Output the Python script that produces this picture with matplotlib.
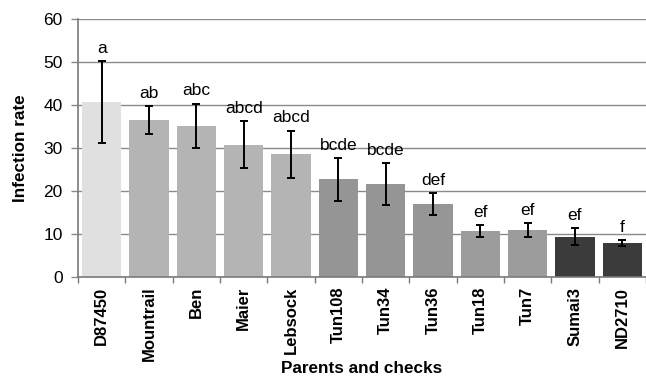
import numpy as np
import matplotlib
matplotlib.use("Agg")
import matplotlib.pyplot as plt

plt.rcParams['font.family'] = ['Liberation Sans', 'DejaVu Sans']

# genotypes, mean infection rate, error bar half-width, mean separation letters
lines = ['D87450', 'Mountrail', 'Ben', 'Maier', 'Lebsock', 'Tun108',
         'Tun34', 'Tun36', 'Tun18', 'Tun7', 'Sumai3', 'ND2710']
rates = [40.7, 36.5, 35.2, 30.8, 28.5, 22.7, 21.6, 17.0, 10.7, 10.9, 9.4, 7.8]
errs = [9.5, 3.3, 5.1, 5.5, 5.5, 5.0, 4.9, 2.5, 1.3, 1.6, 2.0, 0.7]
groups = ['a', 'ab', 'abc', 'abcd', 'abcd', 'bcde', 'bcde', 'def',
          'ef', 'ef', 'ef', 'f']
shades = ['#e0e0e0', '#b4b4b4', '#b4b4b4', '#b4b4b4', '#b4b4b4', '#959595',
          '#959595', '#969696', '#9c9c9c', '#9c9c9c', '#3b3b3b', '#3b3b3b']

fig = plt.figure(figsize=(6.46, 3.81), dpi=100)
ax = fig.add_axes([78/646, 1 - 277/381, 1 - 78/646, (277 - 19)/381])

x = np.arange(len(lines))
ax.bar(x, rates, width=0.83, color=shades, zorder=2)
ax.errorbar(x, rates, yerr=errs, fmt='none', ecolor='black', elinewidth=1.4,
            capsize=3.2, capthick=1.4, zorder=3)

for xi, r, e, g in zip(x, rates, errs, groups):
    ax.annotate(g, (xi, r + e), xytext=(0, 6), textcoords='offset points',
                ha='center', va='baseline', fontsize=12.5)

ax.set_xlim(-0.5, len(lines) - 0.5)
ax.set_ylim(0, 60)
ax.set_yticks(range(0, 61, 10))
ax.yaxis.grid(True, color='#8a8a8a', linewidth=1.0, zorder=0)
ax.set_axisbelow(True)

# category ticks sit on the boundaries between bars
ax.set_xticks(np.arange(-0.5, len(lines), 1.0))
ax.set_xticklabels([])
ax.set_xticks(x, minor=True)
ax.set_xticklabels(lines, minor=True, rotation=90, fontsize=12, fontweight='bold')
ax.tick_params(axis='x', which='minor', length=0, pad=7)
ax.tick_params(axis='x', which='major', length=4, color='#7a7a7a', width=1)
ax.tick_params(axis='y', length=5, color='#8a8a8a', width=1, labelsize=12.5, pad=6)

for side in ['top', 'right']:
    ax.spines[side].set_visible(False)
for side in ['left', 'bottom']:
    ax.spines[side].set_color('#7a7a7a')
    ax.spines[side].set_linewidth(1.2)

ax.set_ylabel('Infection rate', fontsize=12.3, fontweight='bold', labelpad=11)
ax.set_xlabel('Parents and checks', fontsize=12.3, fontweight='bold', labelpad=0)

fig.savefig('out.png', dpi=100)
